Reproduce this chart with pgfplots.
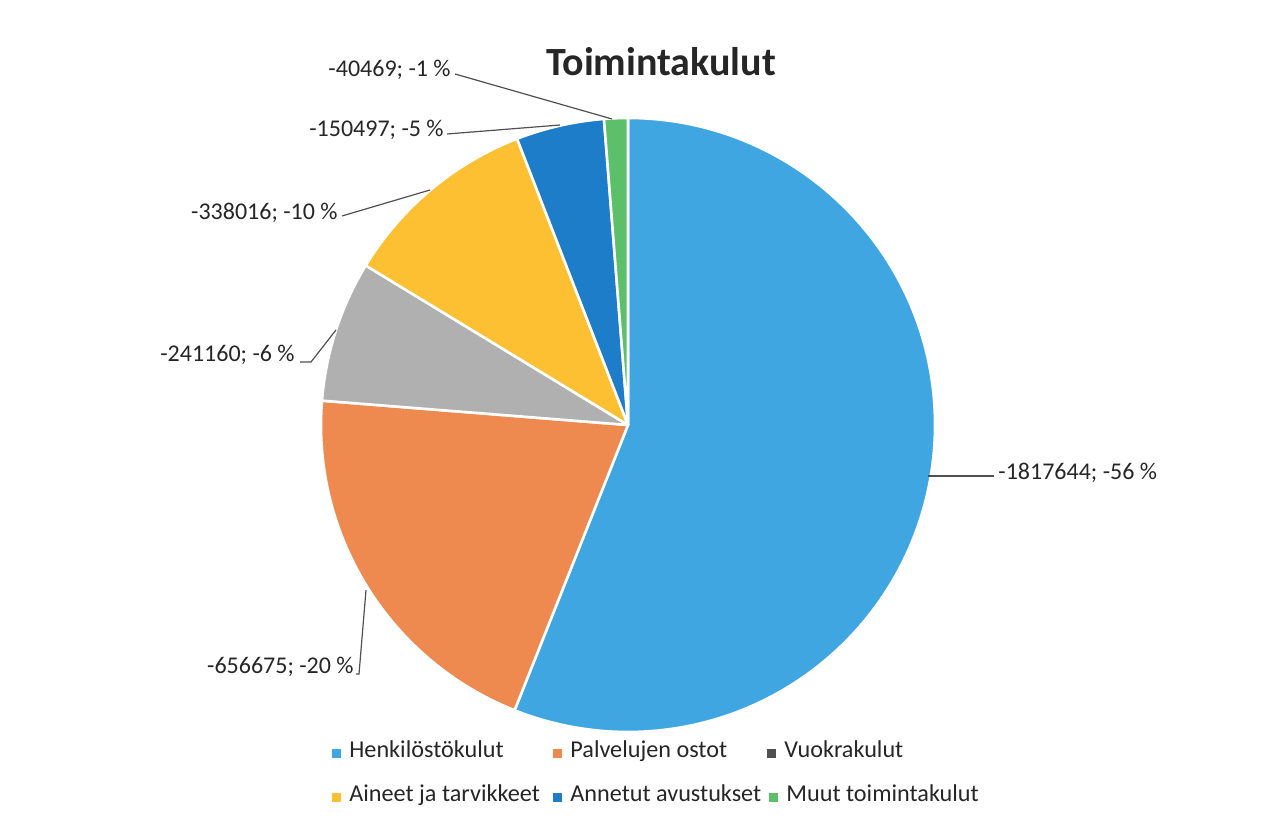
\documentclass[border=0pt]{standalone}
\usepackage{fontspec}
\setmainfont{Carlito}
\usepackage{pgfplots}
\usepackage{pgfplotstable}
\pgfplotsset{compat=1.18}
\definecolor{c1}{HTML}{3FA6E2}
\definecolor{c2}{HTML}{EE8A50}
\definecolor{c3}{HTML}{B0B0B0}
\definecolor{c3leg}{HTML}{505050}
\definecolor{c4}{HTML}{FCC032}
\definecolor{c5}{HTML}{1E7DC9}
\definecolor{c6}{HTML}{5CBF6A}
\definecolor{leader}{HTML}{505050}

% values of the six cost categories (clockwise from 12 o'clock)
\pgfplotstableread{
value
1817644
656675
241160
338016
150497
40469
}\piedata

\def\total{0}
\pgfplotsforeachungrouped \i in {0,...,5}{%
  \pgfplotstablegetelem{\i}{value}\of\piedata
  \xdef\total{\fpeval{\total+\pgfplotsretval}}%
}
\def\cum{0}
\pgfplotsforeachungrouped \i in {0,...,5}{%
  \pgfplotstablegetelem{\i}{value}\of\piedata
  \expandafter\xdef\csname sa\i\endcsname{\fpeval{round(90-360*\cum/\total,4)}}%
  \xdef\cum{\fpeval{\cum+\pgfplotsretval}}%
  \expandafter\xdef\csname ea\i\endcsname{\fpeval{round(90-360*\cum/\total,4)}}%
}
\newcommand\SA[1]{\csname sa#1\endcsname}
\newcommand\EA[1]{\csname ea#1\endcsname}
\newcommand\slice[2]{%
  \fill[#2, draw=white, line width=1.3pt, line join=round]
    (axis cs:628,405) -- ++(\SA{#1}:153.5pt)
    arc[start angle=\SA{#1}, end angle=\EA{#1}, radius=153.5pt] -- cycle;}
\newcommand\lab{\fontsize{12}{14}\selectfont}
\newcommand\legsq[1]{{\color{#1}\rule{4.5pt}{4.5pt}}\hspace{4pt}}

\begin{document}
\begin{tikzpicture}
\begin{axis}[x=0.5pt, y=0.5pt, xmin=0, xmax=1275, ymin=0, ymax=830,
  hide axis, clip=false, scale only axis]
\path (axis cs:0,0) rectangle (axis cs:1275,830);
\slice{0}{c1}
\slice{1}{c2}
\slice{2}{c3}
\slice{3}{c4}
\slice{4}{c5}
\slice{5}{c6}

% title
\node[anchor=base, inner sep=0pt, font=\bfseries\fontsize{20}{24}\selectfont, text=black!85]
  at (axis cs:661,754) {Toimintakulut};

% data labels and leader lines
\begin{scope}[every node/.style={inner sep=0pt, text=black!85, font=\lab}]
\node[anchor=base east] at (axis cs:451,753) {-40469; -1 \%};
\draw[leader, line width=0.6pt] (axis cs:455,756) -- (axis cs:612,711);
\node[anchor=base east] at (axis cs:444,693) {-150497; -5 \%};
\draw[leader, line width=0.6pt] (axis cs:447,696) -- (axis cs:560,705);
\node[anchor=base east] at (axis cs:338,610) {-338016; -10 \%};
\draw[leader, line width=0.6pt] (axis cs:342,614) -- (axis cs:430,640);
\node[anchor=base east] at (axis cs:295,468) {-241160; -6 \%};
\draw[leader, line width=0.6pt] (axis cs:300,468) -- (axis cs:311,468) -- (axis cs:336,500);
\node[anchor=base east] at (axis cs:354,156) {-656675; -20 \%};
\draw[leader, line width=0.6pt] (axis cs:356,156) -- (axis cs:359,156) -- (axis cs:366,240);
\node[anchor=base west] at (axis cs:998,350) {-1817644; -56 \%};
\draw[leader, line width=0.6pt] (axis cs:928,354) -- (axis cs:994,354);
\end{scope}

% legend
\begin{scope}[every node/.style={inner sep=0pt, anchor=base west, text=black!85,
  font=\fontsize{12.1}{15}\selectfont}]
\node at (axis cs:332,72) {\legsq{c1}Henkilöstökulut};
\node at (axis cs:553,72) {\legsq{c2}Palvelujen ostot};
\node at (axis cs:767,72) {\legsq{c3leg}Vuokrakulut};
\node at (axis cs:332,28) {\legsq{c4}Aineet ja tarvikkeet};
\node at (axis cs:553,28) {\legsq{c5}Annetut avustukset};
\node at (axis cs:769,28) {\legsq{c6}Muut toimintakulut};
\end{scope}
\end{axis}
\end{tikzpicture}
\end{document}
